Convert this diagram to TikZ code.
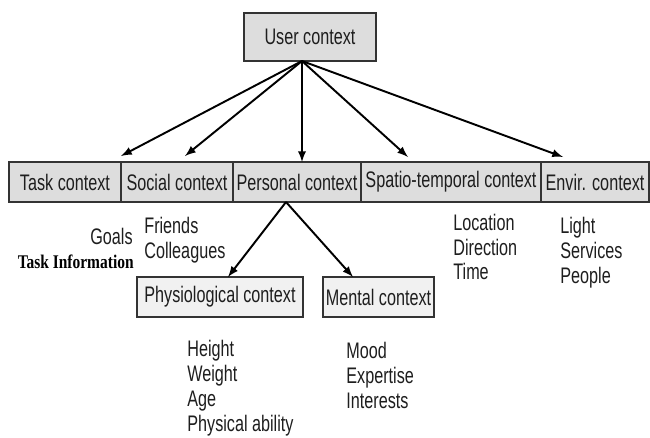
\documentclass[tikz,border=0pt]{standalone}
\usepackage{fontspec}
\setmainfont[FakeStretch=0.72]{Liberation Sans}
\newfontfamily\labelserif[FakeStretch=0.8]{Liberation Serif}
\usepackage{tikz}
\usepackage{xcolor}
\usetikzlibrary{arrows, positioning, calc}

\definecolor{boxgray}{RGB}{221,221,221}
\definecolor{subgray}{RGB}{241,241,241}
\definecolor{inkgray}{RGB}{30,30,30}

\begin{document}
\begin{tikzpicture}[
  font=\fontsize{12.8}{14.2}\selectfont,
  box/.style={draw=black!80, line width=0.6pt, fill=boxgray, text=inkgray,
    inner sep=0pt, outer sep=0pt, minimum height=0.8cm},
  subbox/.style={box, fill=subgray},
  arr/.style={-latex, line width=1.1pt},
  info/.style={text=inkgray, align=left, anchor=west, inner sep=0pt}
]
\useasboundingbox (0,0) rectangle (13,8.74);

% User context
\node[box, minimum width=2.64cm, minimum height=0.96cm] (user) at (6.2,8.0) {User context};
\coordinate (hub) at ([xshift=-1.6mm]user.south);

% Five contexts in one row
\node[box, minimum width=2.24cm, anchor=west] (task) at (0.18,5.1) {Task context};
\node[box, minimum width=2.24cm, right=0pt of task] (social) {Social context};
\node[box, minimum width=2.56cm, right=0pt of social] (personal) {Personal context};
\node[box, minimum width=3.6cm, right=0pt of personal] (spatio) {Spatio-temporal context};
\node[box, minimum width=2.16cm, right=0pt of spatio] (envir) {Envir. context};

\draw[arr] (hub) -- ([yshift=1.2mm]task.north east);
\draw[arr] (hub) -- ([xshift=1.6mm,yshift=1.2mm]social.north);
\draw[arr] (hub) -- (hub |- personal.north);
\draw[arr] (hub) -- ([xshift=-8.6mm,yshift=1mm]spatio.north);
\draw[arr] (hub) -- ([xshift=-6.4mm,yshift=1mm]envir.north);

% Personal context split
\node[subbox, minimum width=3.32cm] (physio) at (4.4,2.8) {Physiological context};
\node[subbox, minimum width=2.22cm] (mental) at (7.57,2.8) {Mental context};
\coordinate (split) at ([xshift=-2.2mm]personal.south);
\draw[arr] (split) -- ([xshift=1.6mm]physio.north);
\draw[arr] (split) -- ([xshift=-5.1mm]mental.north);

% Lists under the boxes
\node[text=inkgray, anchor=east, inner sep=0pt] (goals) at (2.66,4.02) {Goals};
\node[anchor=east, inner sep=0pt, font={\labelserif\bfseries\fontsize{11}{13}\selectfont}] (taskinfo) at (2.68,3.5) {Task Information};
\node[info] (socialinfo) at (2.88,3.93) {Friends\\Colleagues};
\node[info] (spatioinfo) at (9.06,3.8) {Location\\Direction\\Time};
\node[info] (envirinfo) at (11.2,3.68) {Light\\Services\\People};
\node[info] (physioinfo) at (3.74,0.97) {Height\\Weight\\Age\\Physical ability};
\node[info] (mentalinfo) at (6.92,1.24) {Mood\\Expertise\\Interests};
\end{tikzpicture}
\end{document}
